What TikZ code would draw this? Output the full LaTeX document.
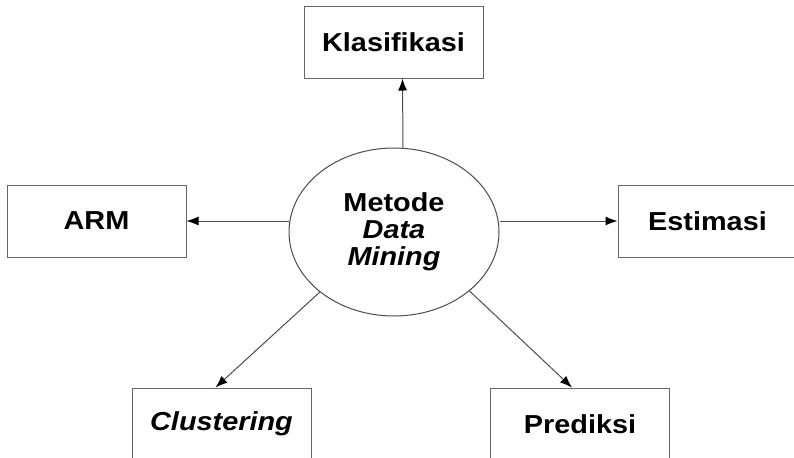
\documentclass[tikz,border=0pt]{standalone}
\usepackage{fontspec}
\setmainfont{Liberation Sans}[FakeStretch=1.11]
\usetikzlibrary{arrows.meta,shapes.geometric}

\tikzset{
  kotak/.style={draw=black!60, line width=0.5pt, minimum width=89.5pt, minimum height=36pt,
    font=\fontsize{13}{15}\selectfont\bfseries},
  panah/.style={draw=black!70, line width=0.5pt, -{Latex[length=6pt,width=4.5pt,black]}}
}

\begin{document}
\begin{tikzpicture}[x=0.5pt, y=-0.5pt]
    \useasboundingbox (0,0) rectangle (794,457);
    \clip (0,0) rectangle (794,457);

    % Metode di tengah
    \node[ellipse, draw=black!70, line width=0.5pt, minimum width=105pt, minimum height=84pt,
          align=center, font=\fontsize{13}{13.5}\selectfont\bfseries]
         (metode) at (394,232) {Metode\\\textit{Data}\\\textit{Mining}};

    % Kotak-kotak
    \node[kotak] (kla) at (393.5,42) {Klasifikasi};
    \node[kotak] (arm) at (96.5,221) {ARM};
    \node[kotak] (est) at (707.5,221) {Estimasi};
    \node[kotak] (clu) at (221.5,424) {\textit{Clustering}};
    \node[kotak] (pre) at (580,424) {Prediksi};

    % Panah
    \draw[panah] ([xshift=4.5pt]metode.north) -- ([xshift=4.5pt]kla.south);
    \draw[panah] (metode.west |- arm.east) -- (arm.east);
    \draw[panah] (metode.east |- est.west) -- (est.west);
    \draw[panah] (metode.219) -- ([xshift=-3pt]clu.north);
    \draw[panah] (metode.322) -- ([xshift=-4pt]pre.north);
\end{tikzpicture}
\end{document}
